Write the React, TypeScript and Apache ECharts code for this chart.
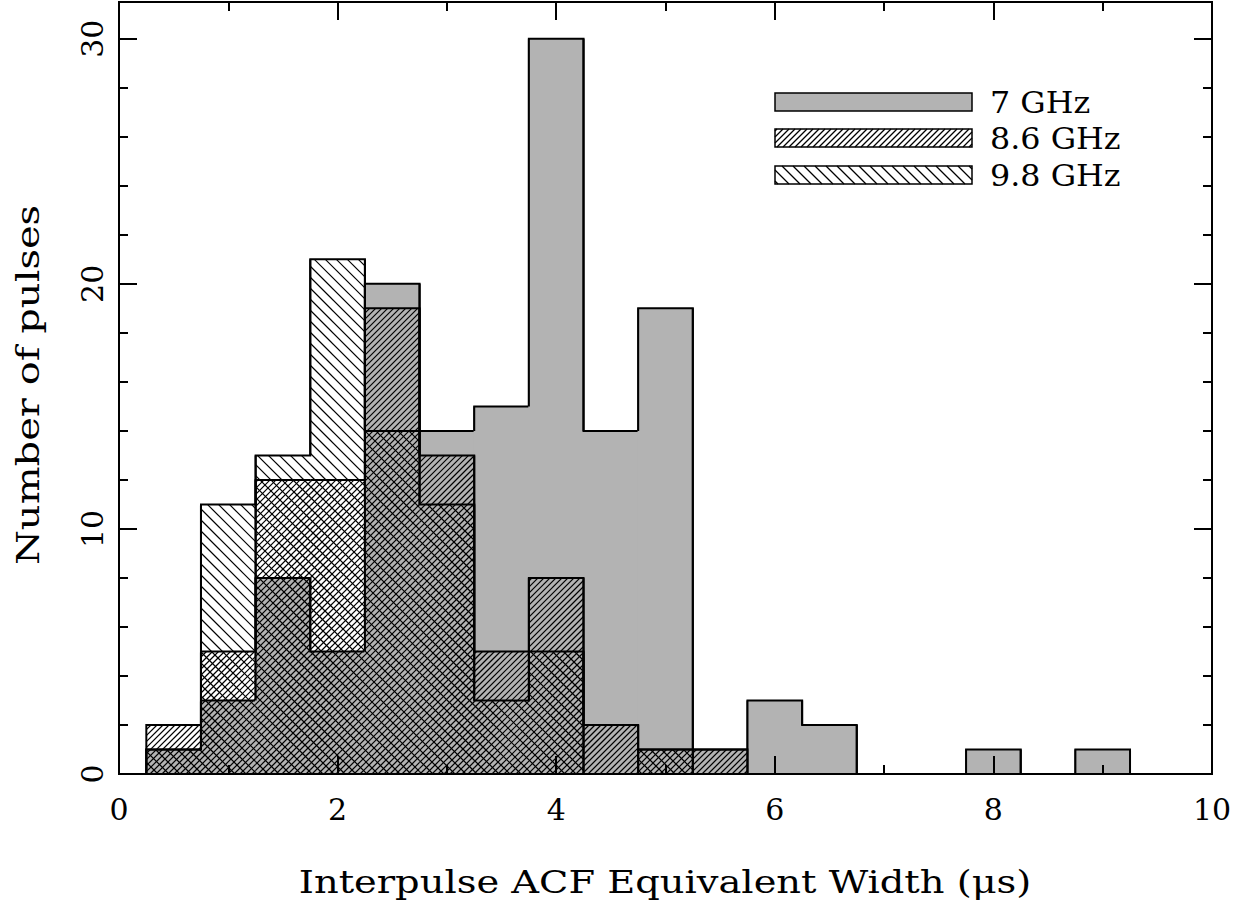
import React, { useEffect, useRef } from "react";
import * as echarts from "echarts";

// ---- data ----
const binCenters = [0.5, 1, 1.5, 2, 2.5, 3, 3.5, 4, 4.5, 5, 5.5, 6, 6.5, 7, 7.5, 8, 8.5, 9];
const counts7GHz = [1, 3, 8, 5, 20, 14, 15, 30, 14, 19, 1, 3, 2, 0, 0, 1, 0, 1];
const counts86GHz = [2, 5, 12, 12, 19, 13, 5, 8, 2, 1, 1, 0, 0, 0, 0, 0, 0, 0];
const counts98GHz = [1, 11, 13, 21, 14, 11, 3, 5, 0, 1, 0, 0, 0, 0, 0, 0, 0, 0];
const seriesNames = ["7 GHz", "8.6 GHz", "9.8 GHz"];
const binWidth = 0.5;
const xTitle = "Interpulse ACF Equivalent Width (\u03bcs)";
const yTitle = "Number of pulses";

const FONT = '"DejaVu Serif", "Liberation Serif", serif';
const GRAY = "#b3b3b3";

type Dir = "up" | "down" | "none";

function hatchSegments(x0: number, y0: number, x1: number, y1: number, dir: Dir, period: number) {
  const segs: number[][] = [];
  if (dir === "up") {
    // x + y = k
    const kmin = x0 + y0, kmax = x1 + y1;
    for (let k = Math.ceil(kmin / period) * period; k <= kmax; k += period) {
      const xa = Math.max(x0, k - y1), xb = Math.min(x1, k - y0);
      if (xb > xa) segs.push([xa, k - xa, xb, k - xb]);
    }
  } else if (dir === "down") {
    // y - x = k
    const kmin = y0 - x1, kmax = y1 - x0;
    for (let k = Math.ceil(kmin / period) * period; k <= kmax; k += period) {
      const xa = Math.max(x0, y0 - k), xb = Math.min(x1, y1 - k);
      if (xb > xa) segs.push([xa, xa + k, xb, xb + k]);
    }
  }
  return segs;
}

function makeRenderItem(values: number[], fill: string | null, dir: Dir, period: number) {
  return (params: any, api: any) => {
    const i = params.dataIndex;
    const c = api.value(0);
    const v = api.value(1);
    const prev = i > 0 ? values[i - 1] : 0;
    const next = i < values.length - 1 ? values[i + 1] : 0;
    const xl = c - binWidth / 2;
    const xr = c + binWidth / 2;
    const children: any[] = [];
    if (v > 0) {
      const pBL = api.coord([xl, 0]);
      const pTR = api.coord([xr, v]);
      const x0 = pBL[0], x1 = pTR[0], y0 = pTR[1], y1 = pBL[1];
      if (fill) {
        children.push({
          type: "rect",
          shape: { x: x0 - 0.6, y: y0, width: x1 - x0 + 1.2, height: y1 - y0 },
          style: { fill, stroke: null },
        });
      }
      for (const s of hatchSegments(x0, y0, x1, y1, dir, period)) {
        children.push({
          type: "line",
          shape: { x1: s[0], y1: s[1], x2: s[2], y2: s[3] },
          style: { stroke: "#000", lineWidth: 1.2 },
        });
      }
    }
    const pts = [
      api.coord([xl, prev]),
      api.coord([xl, v]),
      api.coord([xr, v]),
      api.coord([xr, next]),
    ];
    if (v > 0 || prev > 0 || next > 0) {
      children.push({
        type: "polyline",
        shape: { points: pts },
        style: { stroke: "#000", lineWidth: 2, fill: null, lineJoin: "miter" },
      });
    }
    return { type: "group", children };
  };
}

function legendGraphic() {
  const bx = 775, bw = 197, bh = 18;
  const rows = [
    { y: 93, fill: GRAY, dir: "none" as Dir, period: 6, label: seriesNames[0] },
    { y: 129, fill: "#fff", dir: "up" as Dir, period: 6, label: seriesNames[1] },
    { y: 166, fill: "#fff", dir: "down" as Dir, period: 11, label: seriesNames[2] },
  ];
  const elems: any[] = [];
  rows.forEach((r) => {
    elems.push({
      type: "rect",
      shape: { x: bx, y: r.y, width: bw, height: bh },
      style: { fill: r.fill, stroke: "#000", lineWidth: 1.5 },
      z: 100,
    });
    hatchSegments(bx, r.y, bx + bw, r.y + bh, r.dir, r.period).forEach((s) => {
      elems.push({
        type: "line",
        shape: { x1: s[0], y1: s[1], x2: s[2], y2: s[3] },
        style: { stroke: "#000", lineWidth: 1.2 },
        z: 101,
      });
    });
    elems.push({
      type: "text",
      x: 990,
      y: r.y + bh / 2,
      scaleX: 1.06,
      style: {
        text: r.label,
        font: `30px ${FONT}`,
        fill: "#000",
        align: "left",
        verticalAlign: "middle",
      },
      z: 101,
    });
  });
  // axis titles
  elems.push({
    type: "text",
    x: 665,
    y: 882,
    scaleX: 1.2,
    style: {
      text: xTitle,
      font: `32px ${FONT}`,
      fill: "#000",
      align: "center",
      verticalAlign: "middle",
    },
  });
  elems.push({
    type: "text",
    x: 28,
    y: 385,
    rotation: Math.PI / 2,
    scaleX: 1.25,
    style: {
      text: yTitle,
      font: `32px ${FONT}`,
      fill: "#000",
      align: "center",
      verticalAlign: "middle",
    },
  });
  return elems;
}

export default function App() {
  const ref = useRef<HTMLDivElement>(null);
  useEffect(() => {
    if (!ref.current) return;
    const chart = echarts.init(ref.current, null, { renderer: "svg" });
    const axisLine = { show: true, onZero: false, lineStyle: { color: "#000", width: 2 } };
    const tickStyle = { color: "#000", width: 2 };
    const xAxisOf = (interval: number, len: number, position: string, labels: boolean) => ({
      type: "value",
      min: 0,
      max: 10,
      interval,
      z: 20,
      position,
      axisLine,
      axisTick: { show: true, inside: true, length: len, lineStyle: tickStyle },
      axisLabel: labels
        ? { show: true, color: "#000", fontSize: 30, fontFamily: FONT, margin: 20 }
        : { show: false },
      splitLine: { show: false },
    });
    const yAxisOf = (interval: number, len: number, position: string, labels: boolean) => ({
      type: "value",
      min: 0,
      max: 31.5,
      interval,
      z: 20,
      position,
      axisLine,
      axisTick: { show: true, inside: true, length: len, lineStyle: tickStyle },
      axisLabel: labels
        ? {
            show: true,
            color: "#000",
            fontSize: 30,
            fontFamily: FONT,
            rotate: 90,
            margin: 12,
            showMaxLabel: false,
          }
        : { show: false },
      splitLine: { show: false },
    });
    const toData = (vals: number[]) => binCenters.map((c, i) => [c, vals[i]]);
    chart.setOption({
      animation: false,
      backgroundColor: "#fff",
      grid: {
        left: 119,
        right: 39,
        top: 2,
        bottom: 131,
        containLabel: false,
        outerBoundsMode: "none",
      },
      xAxis: [
        xAxisOf(2, 18, "bottom", true),
        xAxisOf(2, 18, "top", false),
        xAxisOf(1, 9, "bottom", false),
        xAxisOf(1, 9, "top", false),
      ],
      yAxis: [
        yAxisOf(10, 18, "left", true),
        yAxisOf(10, 18, "right", false),
        yAxisOf(2, 9, "left", false),
        yAxisOf(2, 9, "right", false),
      ],
      graphic: { elements: legendGraphic() },
      series: [
        {
          name: seriesNames[0],
          type: "custom",
          xAxisIndex: 0,
          yAxisIndex: 0,
          renderItem: makeRenderItem(counts7GHz, GRAY, "none", 6),
          data: toData(counts7GHz),
          z: 2,
        },
        {
          name: seriesNames[1],
          type: "custom",
          xAxisIndex: 0,
          yAxisIndex: 0,
          renderItem: makeRenderItem(counts86GHz, null, "up", 6),
          data: toData(counts86GHz),
          z: 3,
        },
        {
          name: seriesNames[2],
          type: "custom",
          xAxisIndex: 0,
          yAxisIndex: 0,
          renderItem: makeRenderItem(counts98GHz, null, "down", 11),
          data: toData(counts98GHz),
          z: 4,
        },
      ],
    });
    return () => chart.dispose();
  }, []);
  return (
    <div
      ref={ref}
      style={{ position: "absolute", left: 0, top: 0, width: 1251, height: 905, background: "#fff" }}
    />
  );
}
